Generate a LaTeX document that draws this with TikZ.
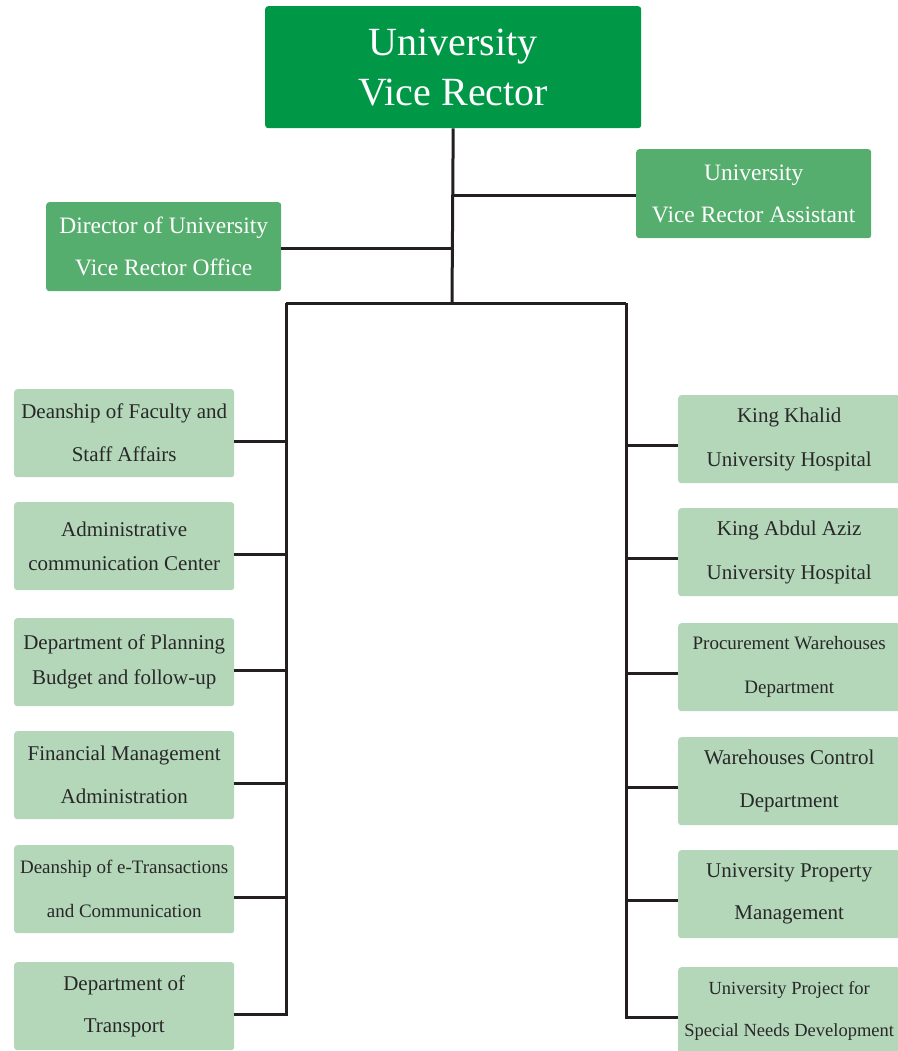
\documentclass[tikz,border=0pt]{standalone}
\usepackage{fontspec}
\setmainfont{Liberation Serif}
\definecolor{vrgreen}{RGB}{0,152,70}
\definecolor{midgreen}{RGB}{86,174,110}
\definecolor{palegreen}{RGB}{180,215,186}
\definecolor{inktext}{RGB}{40,40,40}
\definecolor{linecol}{RGB}{35,31,32}
\begin{document}
\begin{tikzpicture}[x=1pt,y=-1pt,
  basebox/.style={rectangle, rounded corners=3pt, inner sep=0pt, align=center, anchor=north west},
  headbox/.style={basebox, fill=vrgreen, text=white, minimum width=376pt, minimum height=122pt,
    font=\fontsize{40}{50}\selectfont},
  staffbox/.style={basebox, fill=midgreen, text=white, minimum width=235pt, minimum height=89pt,
    font=\fontsize{23.5}{42}\selectfont},
  unitbox/.style={basebox, fill=palegreen, text=inktext, minimum width=220pt, minimum height=88pt,
    font=\fontsize{21}{43}\selectfont},
  runitbox/.style={unitbox, minimum width=222pt},
  link/.style={draw=linecol, line width=3pt}
]
\useasboundingbox (0,0) rectangle (897,1051);

% top level and its two staff offices
\node[headbox] (vr) at (265,6) {University\\Vice Rector};
\node[staffbox] (asst) at (636,149) {University\\Vice Rector Assistant};
\node[staffbox] (dir) at (46,202) {Director of University\\Vice Rector Office};

% left column of units
\node[unitbox] (l1) at (14,389) {Deanship of Faculty and\\Staff Affairs};
\node[unitbox, font=\fontsize{21}{34}\selectfont] (l2) at (14,502) {Administrative\\communication Center};
\node[unitbox, font=\fontsize{21}{35}\selectfont] (l3) at (14,618) {Department of Planning\\Budget and follow-up};
\node[unitbox] (l4) at (14,731) {Financial Management\\Administration};
\node[unitbox, font=\fontsize{19}{44}\selectfont] (l5) at (14,845) {Deanship of e-Transactions\\and Communication};
\node[unitbox, font=\fontsize{21}{42}\selectfont] (l6) at (14,962) {Department of\\Transport};

% right column of units
\node[runitbox, font=\fontsize{21}{44}\selectfont] (r1) at (678,395) {King Khalid\\University Hospital};
\node[runitbox, font=\fontsize{21}{44}\selectfont] (r2) at (678,508) {King Abdul Aziz\\University Hospital};
\node[runitbox, font=\fontsize{19}{44}\selectfont] (r3) at (678,623) {Procurement Warehouses\\Department};
\node[runitbox] (r4) at (678,737) {Warehouses Control\\Department};
\node[runitbox, font=\fontsize{21}{42}\selectfont] (r5) at (678,850) {University Property\\Management};
\node[runitbox, font=\fontsize{18.5}{42}\selectfont] (r6) at (678,967) {University Project for\\Special Needs Development};

% junction points of the trunk and the two buses
\coordinate (jasst) at (452,195);
\coordinate (jdir) at (452,248);
\coordinate (jbar) at (452,303);
\coordinate (lbus) at (286,303);
\coordinate (rbus) at (626,303);

\draw[link] (vr.south) -- (jbar);
\draw[link] (jasst) -- (asst.west |- jasst);
\draw[link] (jdir) -- (dir.east |- jdir);
\draw[link] (lbus) -- (rbus);

% feeder points on the unit boxes
\foreach \n in {l1,l2,l3,l4,l5,l6}
  \coordinate (\n c) at ([yshift=-8pt]\n.east);
\foreach \n in {r1,r2,r3,r4,r5,r6}
  \coordinate (\n c) at ([yshift=-6pt]\n.west);

\draw[link] (lbus) -- (lbus |- l6c) -- (l6c);
\draw[link] (rbus) -- (rbus |- r6c) -- (r6c);
\foreach \n in {l1,l2,l3,l4,l5}
  \draw[link] (\n c) -- (\n c -| lbus);
\foreach \n in {r1,r2,r3,r4,r5}
  \draw[link] (\n c) -- (\n c -| rbus);
\end{tikzpicture}
\end{document}
